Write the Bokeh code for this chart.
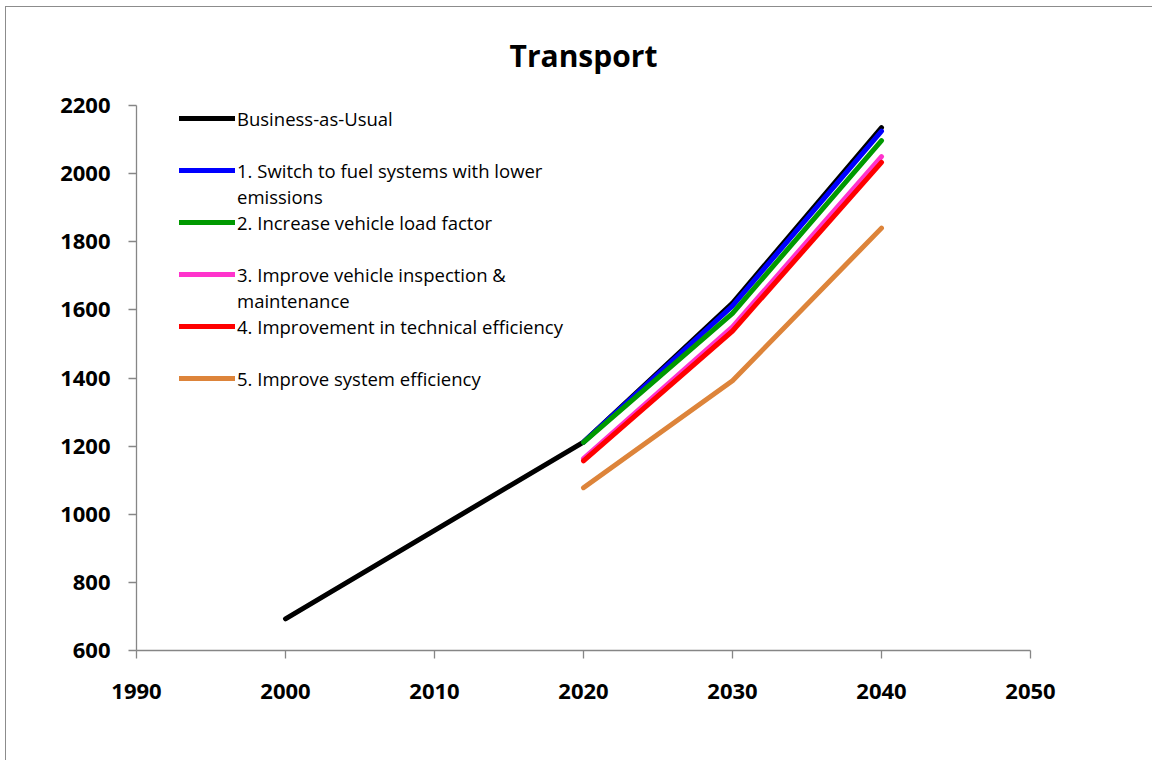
from bokeh.plotting import figure
from bokeh.models import Legend, LegendItem, Range1d, FixedTicker
from bokeh.embed import file_html
from bokeh.resources import INLINE

# ---- data ----
bau_years = [2000, 2020, 2030, 2040]
bau_values = [693, 1212, 1620, 2135]

scen_years = [2020, 2030, 2040]
s1_values = [1212, 1612, 2125]   # Switch to fuel systems with lower emissions
s2_values = [1211, 1590, 2097]   # Increase vehicle load factor
s3_values = [1163, 1550, 2050]   # Improve vehicle inspection & maintenance
s4_values = [1157, 1538, 2033]   # Improvement in technical efficiency
s5_values = [1078, 1392, 1840]   # Improve system efficiency

title_text = "Transport"
labels = [
    "Business-as-Usual",
    "1. Switch to fuel systems with lower",
    "2. Increase vehicle load factor",
    "3. Improve vehicle inspection &",
    "4. Improvement in technical efficiency",
    "5. Improve system efficiency",
]
wrapped_lines = ["emissions", "maintenance"]
colors = ["#000000", "#0000FF", "#009900", "#FF33CC", "#FF0000", "#DD843A"]

x_ticks = [1990, 2000, 2010, 2020, 2030, 2040, 2050]
y_ticks = [600, 800, 1000, 1200, 1400, 1600, 1800, 2000, 2200]

FONT = "Open Sans"

p = figure(width=1147, height=760, output_backend="svg", toolbar_location=None,
           x_range=Range1d(1990, 2050), y_range=Range1d(600, 2200),
           min_border_left=131, min_border_right=122,
           min_border_top=105, min_border_bottom=110)
# chart-area border on the left and top edges only
p.styles = {
    "margin-left": "5px",
    "background": ("linear-gradient(#8c8c8c, #8c8c8c) 0 6px / 100% 1px no-repeat, "
                   "linear-gradient(#8c8c8c, #8c8c8c) 0 6px / 1px 100% no-repeat"),
}

p.title.text = title_text
p.title.align = "center"
p.title.text_font = FONT
p.title.text_font_size = "30px"
p.title.text_font_style = "bold"
p.title.text_color = "#000000"
p.title.standoff = 60

p.outline_line_color = None
p.xgrid.grid_line_color = None
p.ygrid.grid_line_color = None
p.background_fill_color = "white"
p.border_fill_alpha = 0

for ax in (p.xaxis[0], p.yaxis[0]):
    ax.axis_line_color = "#868686"
    ax.axis_line_width = 1.3
    ax.major_tick_line_color = "#868686"
    ax.major_tick_line_width = 1.3
    ax.major_tick_out = 8
    ax.major_tick_in = 0
    ax.minor_tick_line_color = None
    ax.major_label_text_font = FONT
    ax.major_label_text_font_size = "22px"
    ax.major_label_text_font_style = "bold"
    ax.major_label_text_color = "#000000"

p.xaxis.ticker = FixedTicker(ticks=x_ticks)
p.yaxis.ticker = FixedTicker(ticks=y_ticks)
p.xaxis.major_label_standoff = 25
p.yaxis.major_label_standoff = 18

series = [
    (bau_years, bau_values),
    (scen_years, s1_values),
    (scen_years, s2_values),
    (scen_years, s3_values),
    (scen_years, s4_values),
    (scen_years, s5_values),
]
renderers = []
for (xs, ys), c in zip(series, colors):
    r = p.line(xs, ys, line_color=c, line_width=5, line_cap="round", line_join="round")
    renderers.append(r)

legend_style = dict(border_line_color=None, background_fill_alpha=0,
                    padding=0, margin=0,
                    glyph_width=56, glyph_height=26, label_height=26,
                    label_standoff=2,
                    label_text_font=FONT, label_text_font_size="18.5px",
                    label_text_color="#000000")

items = [LegendItem(label=lbl, renderers=[r]) for lbl, r in zip(labels, renderers)]
legend = Legend(items=items, location=(43, 259), spacing=26, **legend_style)
p.add_layout(legend)

# continuation lines of the wrapped legend labels (no visible glyph)
blank = p.line([], [], line_alpha=0)
items2 = [LegendItem(label=t, renderers=[blank]) for t in wrapped_lines]
legend2 = Legend(items=items2, location=(43, 337), spacing=78, **legend_style)
p.add_layout(legend2)

open("out.html", "w").write(file_html(p, INLINE))
